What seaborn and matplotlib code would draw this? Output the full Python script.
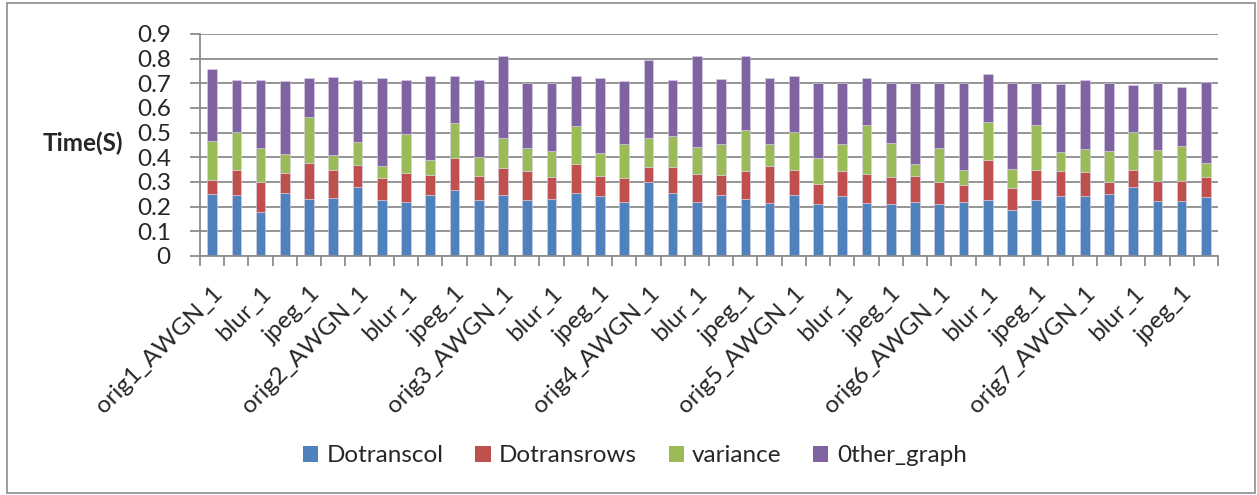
import matplotlib
matplotlib.use("Agg")
import matplotlib.pyplot as plt
import seaborn as sns
import numpy as np
import pandas as pd
from matplotlib.patches import Rectangle, Patch
from matplotlib.ticker import FixedLocator, FuncFormatter

# Test images: 7 originals, each with AWGN / blur / jpeg variants at two levels
origs = [f"orig{i}" for i in range(1, 8)]
variants = ["AWGN_1", "AWGN_2", "blur_1", "blur_2", "jpeg_1", "jpeg_2"]
categories = [f"{o}_{v}" for o in origs for v in variants]

# Tick text shown under every other bar
tick_labels = []
for o in origs:
    tick_labels += [f"{o}_AWGN_1", "blur_1", "jpeg_1"]

# Time per stage (seconds)
dotranscol = [0.250, 0.249, 0.178, 0.254, 0.231, 0.235, 0.280, 0.228, 0.219, 0.249,
              0.268, 0.228, 0.249, 0.227, 0.231, 0.257, 0.243, 0.219, 0.299, 0.254,
              0.219, 0.249, 0.232, 0.215, 0.247, 0.211, 0.243, 0.214, 0.211, 0.219,
              0.211, 0.219, 0.226, 0.186, 0.226, 0.245, 0.243, 0.253, 0.278, 0.223,
              0.223, 0.238]
dotransrows = [0.059, 0.098, 0.121, 0.081, 0.145, 0.112, 0.090, 0.088, 0.119, 0.079,
               0.129, 0.096, 0.108, 0.116, 0.088, 0.115, 0.080, 0.096, 0.060, 0.107,
               0.115, 0.078, 0.111, 0.149, 0.100, 0.080, 0.100, 0.117, 0.108, 0.107,
               0.089, 0.069, 0.162, 0.090, 0.121, 0.098, 0.098, 0.048, 0.069, 0.081,
               0.080, 0.081]
variance = [0.159, 0.156, 0.140, 0.080, 0.186, 0.062, 0.094, 0.049, 0.155, 0.063,
            0.141, 0.079, 0.123, 0.096, 0.108, 0.155, 0.093, 0.140, 0.119, 0.125,
            0.109, 0.126, 0.169, 0.091, 0.156, 0.108, 0.112, 0.200, 0.139, 0.046,
            0.139, 0.062, 0.155, 0.077, 0.185, 0.079, 0.094, 0.125, 0.157, 0.124,
            0.142, 0.059]
other_graph = [0.290, 0.211, 0.276, 0.296, 0.160, 0.318, 0.251, 0.358, 0.222, 0.340,
               0.193, 0.311, 0.329, 0.264, 0.273, 0.204, 0.304, 0.256, 0.315, 0.229,
               0.366, 0.266, 0.297, 0.265, 0.228, 0.301, 0.245, 0.192, 0.243, 0.328,
               0.261, 0.350, 0.195, 0.347, 0.168, 0.275, 0.279, 0.274, 0.188, 0.272,
               0.239, 0.329]

series_names = ["Dotranscol", "Dotransrows", "variance", "0ther_graph"]
series_values = [dotranscol, dotransrows, variance, other_graph]
series_colors = ["#4F81BD", "#C0504D", "#9BBB59", "#8064A2"]

sns.set_theme(style="white")
plt.rcParams["font.family"] = ["Lato", "DejaVu Sans"]
FS = 17.5

fig = plt.figure(figsize=(12.57, 4.95), dpi=100)
ax = fig.add_axes([200 / 1257, 1 - 256 / 495, 1018 / 1257, 222 / 495])

grid_color = "#8c8c8c"
ax.set_axisbelow(True)
ax.yaxis.grid(True, color=grid_color, linewidth=1.3)

bottom = np.zeros(len(categories))
for name, vals, col in zip(series_names, series_values, series_colors):
    df = pd.DataFrame({"cat": categories, "val": vals})
    sns.barplot(data=df, x="cat", y="val", order=categories, color=col,
                bottom=bottom, width=0.4, errorbar=None, ax=ax,
                edgecolor="#d9d3e6", linewidth=0.4, saturation=1)
    bottom = bottom + np.array(vals)

ax.set_xlim(-0.5, len(categories) - 0.5)
ax.set_ylim(0, 0.9)
ax.set_yticks(np.arange(0, 0.91, 0.1))
ax.yaxis.set_major_formatter(FuncFormatter(lambda v, p: f"{v:.1f}" if v > 1e-9 else "0"))

# category boundary tick marks, labels under every other bar
ax.xaxis.set_major_locator(FixedLocator(np.arange(-0.5, len(categories), 1.0)))
ax.xaxis.set_major_formatter(FuncFormatter(lambda v, p: ""))
ax.xaxis.set_minor_locator(FixedLocator(np.arange(0, len(categories), 2)))
ax.set_xticklabels(tick_labels, minor=True, rotation=45, ha="right",
                   rotation_mode="anchor", fontsize=FS)
ax.tick_params(axis="x", which="major", bottom=True, length=7, width=1.3,
               color=grid_color, direction="out")
ax.tick_params(axis="x", which="minor", bottom=True, length=0, pad=19)
ax.tick_params(axis="y", left=True, length=7, width=1.3, color=grid_color,
               direction="out", pad=14, labelsize=FS)

for s in ["top", "right"]:
    ax.spines[s].set_visible(False)
for s in ["left", "bottom"]:
    ax.spines[s].set_color(grid_color)
    ax.spines[s].set_linewidth(1.3)

ax.set_xlabel("")
ax.set_ylabel("")
fig.text(83 / 1257, 1 - 143 / 495, "Time(S)", fontsize=17.5, fontweight="bold",
         ha="center", va="center")

handles = [Patch(facecolor=c, edgecolor="none") for c in series_colors]
fig.legend(handles, series_names, loc="center", bbox_to_anchor=(635 / 1257, 1 - 456 / 495),
           ncol=4, frameon=False, fontsize=FS, handlelength=0.62, handleheight=0.62,
           handletextpad=0.35, columnspacing=1.3)

# outer chart frame
fig.patches.append(Rectangle((7 / 1257, 2 / 495), 1248 / 1257, 490 / 495,
                             transform=fig.transFigure, fill=False,
                             edgecolor="#8c8c8c", linewidth=1.2))

fig.savefig("out.png", dpi=100)
